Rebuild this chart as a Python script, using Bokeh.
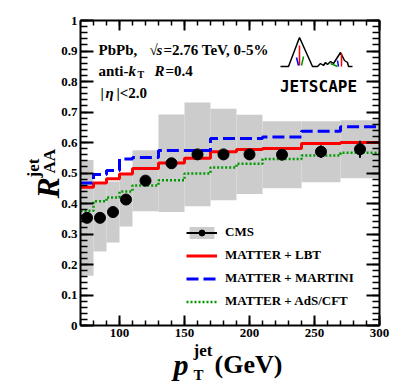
import numpy as np
from bokeh.plotting import figure
from bokeh.models import (ColumnDataSource, FixedTicker, LinearAxis, Range1d,
                          Label, Legend, LegendItem)
from bokeh.embed import file_html
from bokeh.resources import INLINE

# ---------------- data ----------------
bin_edges = [70, 80, 90, 100, 110, 130, 150, 170, 190, 210, 240, 270, 300]
cms_pt = [75, 85, 95, 105, 120, 140, 160, 180, 200, 225, 255, 285]
cms_raa = [0.353, 0.353, 0.372, 0.413, 0.475, 0.532, 0.561, 0.561, 0.561, 0.560, 0.570, 0.578]
cms_stat = [0.005, 0.005, 0.005, 0.006, 0.006, 0.007, 0.008, 0.010, 0.012, 0.015, 0.020, 0.028]
cms_sys = [0.19, 0.11, 0.10, 0.088, 0.10, 0.16, 0.17, 0.15, 0.13, 0.11, 0.10, 0.095]
lbt = [0.453, 0.467, 0.481, 0.497, 0.515, 0.533, 0.548, 0.570, 0.577, 0.580, 0.597, 0.600]
martini = [0.467, 0.495, 0.508, 0.546, 0.551, 0.574, 0.574, 0.613, 0.613, 0.618, 0.637, 0.652]
ads_cft = [0.376, 0.407, 0.420, 0.439, 0.459, 0.476, 0.498, 0.518, 0.530, 0.546, 0.557, 0.566]

x_ticks = [100, 150, 200, 250, 300]
x_tick_labels = ["100", "150", "200", "250", "300"]
x_minor = list(range(70, 301, 10))
y_ticks = [0.0, 0.1, 0.2, 0.3, 0.4, 0.5, 0.6, 0.7, 0.8, 0.9, 1.0]
y_tick_labels = ["0", "0.1", "0.2", "0.3", "0.4", "0.5", "0.6", "0.7", "0.8", "0.9", "1"]
y_minor = [round(i * 0.02, 2) for i in range(0, 51)]

X_MIN, X_MAX, Y_MIN, Y_MAX = 70, 300, 0.0, 1.0

# ---------------- layout helpers (canvas pixel -> data) ----------------
W, H = 399, 383
BOX_L, BOX_R, BOX_T, BOX_B = 80, 379, 20, 325
SX = (BOX_R - BOX_L) / (X_MAX - X_MIN)
SY = (BOX_B - BOX_T) / (Y_MAX - Y_MIN)


def X(px):
    return X_MIN + (px - BOX_L) / SX


def Y(py):
    return Y_MIN + (BOX_B - py) / SY


SERIF = "Liberation Serif"

p = figure(frame_width=W, frame_height=H,
           x_range=Range1d(X(0), X(W)), y_range=Range1d(Y(H), Y(0)),
           output_backend="svg", toolbar_location=None,
           min_border=0, min_border_left=0, min_border_right=0,
           min_border_top=0, min_border_bottom=0,
           background_fill_color="white", border_fill_color="white")
p.grid.visible = False
p.outline_line_color = None

# ---------------- glyphs ----------------
band_src = ColumnDataSource(dict(
    left=bin_edges[:-1], right=bin_edges[1:],
    top=list(np.array(cms_raa) + np.array(cms_sys)),
    bottom=list(np.array(cms_raa) - np.array(cms_sys))))
band_r = p.quad(left="left", right="right", top="top", bottom="bottom",
                source=band_src, fill_color="#cccccc", line_color=None)

ads_r = p.step(bin_edges, ads_cft + [ads_cft[-1]], mode="after",
               line_color="#009900", line_width=2.5, line_dash="2 2")
lbt_r = p.step(bin_edges, lbt + [lbt[-1]], mode="after",
               line_color="#ff0000", line_width=3)
mar_r = p.step(bin_edges, martini + [martini[-1]], mode="after",
               line_color="#0000ff", line_width=3, line_dash="12 5")

err_src = ColumnDataSource(dict(
    x=cms_pt, y0=list(np.array(cms_raa) - np.array(cms_stat)),
    y1=list(np.array(cms_raa) + np.array(cms_stat))))
err_r = p.segment(x0="x", x1="x", y0="y0", y1="y1", source=err_src,
                  line_color="black", line_width=2)
pts_r = p.scatter(cms_pt, cms_raa, size=11, marker="circle",
                  fill_color="black", line_color="black")

# ---------------- axes (drawn at the box edges) ----------------
def style_axis(ax, tick_in, minor_in, show_labels):
    ax.axis_line_color = "black"
    ax.axis_line_width = 2
    ax.major_tick_in = tick_in
    ax.major_tick_out = 0
    ax.minor_tick_in = minor_in
    ax.minor_tick_out = 0
    ax.major_tick_line_width = 2
    ax.minor_tick_line_width = 1.5
    ax.major_tick_line_color = "black"
    ax.minor_tick_line_color = "black"
    ax.major_label_text_font = SERIF
    ax.major_label_text_font_style = "bold"
    ax.major_label_text_font_size = "13px"
    ax.major_label_standoff = 3
    ax.major_label_text_color = "black" if show_labels else None


xt = FixedTicker(ticks=x_ticks, minor_ticks=x_minor)
yt = FixedTicker(ticks=y_ticks, minor_ticks=y_minor)

bottom_ax = p.xaxis[0]
left_ax = p.yaxis[0]
bottom_ax.ticker = xt
left_ax.ticker = yt
bottom_ax.major_label_overrides = dict(zip(x_ticks, x_tick_labels))
left_ax.major_label_overrides = dict(zip(y_ticks, y_tick_labels))
bottom_ax.fixed_location = Y_MIN
left_ax.fixed_location = X_MIN
bottom_ax.bounds = (X_MIN, X_MAX)
left_ax.bounds = (Y_MIN, Y_MAX)
style_axis(bottom_ax, 10, 5, True)
style_axis(left_ax, 13, 7, True)

top_ax = LinearAxis(ticker=xt, fixed_location=Y_MAX, bounds=(X_MIN, X_MAX),
                    major_label_overrides={t: "" for t in x_ticks})
right_ax = LinearAxis(ticker=yt, fixed_location=X_MAX, bounds=(Y_MIN, Y_MAX),
                      major_label_overrides={t: "" for t in y_ticks})
style_axis(top_ax, 10, 5, False)
style_axis(right_ax, 13, 7, False)
p.add_layout(top_ax, "above")
p.add_layout(right_ax, "right")

# ---------------- legend ----------------
legend = Legend(items=[
    LegendItem(label="CMS", renderers=[band_r, err_r, pts_r]),
    LegendItem(label="MATTER + LBT", renderers=[lbt_r]),
    LegendItem(label="MATTER + MARTINI", renderers=[mar_r]),
    LegendItem(label="MATTER + AdS/CFT", renderers=[ads_r]),
], location=(186, 74))
legend.glyph_width = 31
legend.glyph_height = 15
legend.label_height = 15
legend.spacing = 7
legend.label_standoff = 8
legend.padding = 0
legend.margin = 0
legend.border_line_color = None
legend.background_fill_alpha = 0
legend.label_text_font = SERIF
legend.label_text_font_style = "bold"
legend.label_text_font_size = "13px"
legend.label_text_color = "black"
p.add_layout(legend)

# ---------------- texts ----------------
def txt(px, py, s, size, style="bold", angle=0, align="left", font=SERIF):
    p.add_layout(Label(x=X(px), y=Y(py), text=s, text_font=font,
                       text_font_size=size, text_font_style=style,
                       text_color="black", angle=angle,
                       text_align=align, text_baseline="alphabetic"))


txt(98, 49, "PbPb,", "15px")
txt(149, 49, "\u221a", "15px")
txt(156, 49, "s", "15px", "bold italic")
txt(163, 49, "=2.76 TeV, 0-5%", "15px")

txt(98, 70, "anti-", "15px")
txt(128, 70, "k", "15px", "bold italic")
txt(137, 74, "T", "10px")
txt(154, 70, "R", "15px", "bold italic")
txt(165, 70, "=0.4", "15px")

txt(100, 92, "|", "15px")
txt(105, 92, "\u03b7", "15px", "bold italic")
txt(116, 92, "|<2.0", "15px")

# y axis title  R_AA^jet (rotated)
txt(47, 198, "R", "32px", "bold italic", angle=np.pi / 2)
txt(49, 173, "AA", "17px", "bold", angle=np.pi / 2)
txt(33, 177, "jet", "17px", "bold", angle=np.pi / 2)

# x axis title  p_T^jet (GeV)
txt(173, 364, "p", "30px", "bold italic")
txt(193, 350, "jet", "17px")
txt(193, 374, "T", "15px")
txt(214, 364, "(GeV)", "26px")

# ---------------- JETSCAPE logo (decoration) ----------------
logo_px = [280, 288, 299, 312, 317, 320, 323, 325, 327, 330, 333, 340, 344, 347, 348, 352]
logo_py = [66, 66, 37, 66, 66, 63, 65, 62, 64, 61, 63, 52, 60, 62, 66, 66]
p.line([X(v) for v in logo_px], [Y(v) for v in logo_py],
       line_color="black", line_width=1.5)
stick_px0 = [299, 296, 303, 341, 337, 330]
stick_py0 = [45, 57, 56, 53, 60, 63]
stick_px1 = [299, 298, 301, 341, 338, 337]
stick_py1 = [65, 65, 65, 66, 66, 66]
p.segment(x0=[X(v) for v in stick_px0], y0=[Y(v) for v in stick_py0],
          x1=[X(v) for v in stick_px1], y1=[Y(v) for v in stick_py1],
          line_color=["#ff0000", "#0000ff", "#009900", "#ff0000", "#0000ff", "#009900"],
          line_width=1.5)
txt(318, 86, "JETSCAPE", "16px", "bold", align="center", font="DejaVu Sans Mono")

open("out.html", "w").write(file_html(p, INLINE))
